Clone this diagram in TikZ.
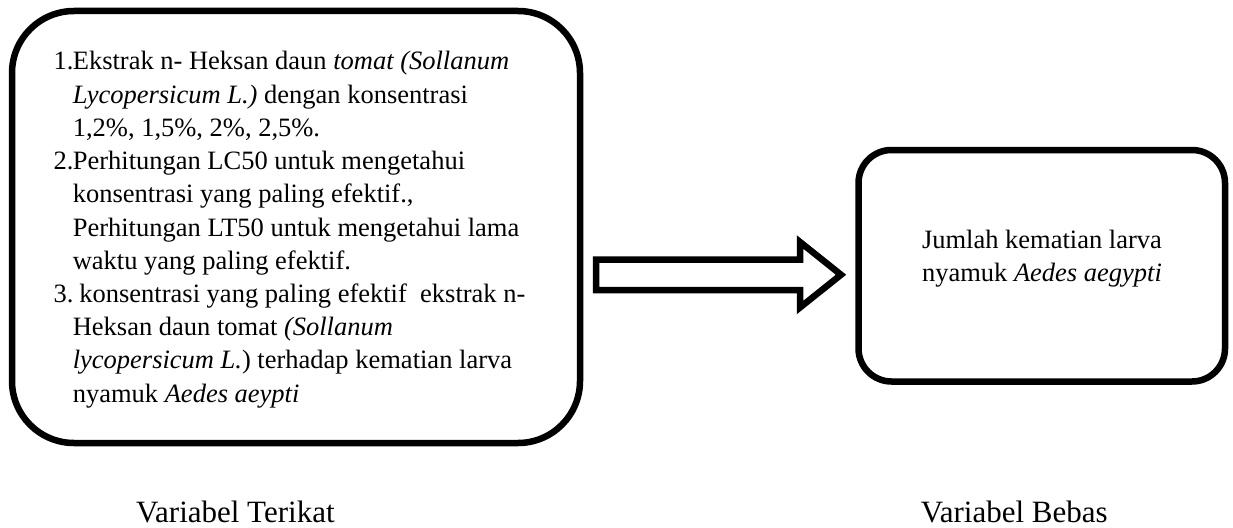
\documentclass[tikz,border=0pt]{standalone}
\usepackage{fontspec}
\setmainfont{Liberation Serif}
\begin{document}
\begin{tikzpicture}[x=1pt,y=-1pt,
  varbox/.style={draw=black,line width=6.5pt,inner sep=0pt,outer sep=0pt},
  bodytext/.style={anchor=base west,inner sep=0pt,outer sep=0pt,
    font=\fontsize{26.5}{33.2}\selectfont},
  caption/.style={anchor=base west,inner sep=0pt,
    font=\fontsize{31}{36}\selectfont},
  blockarrow/.style={draw=black,fill=white,line width=6.5pt,line join=miter}]
\useasboundingbox (0,0) rectangle (1233,527);

% boxes
\node (terikat) [varbox,rounded corners=62pt,minimum width=568pt,minimum height=432pt]
  at (296,227) {};
\node (bebas) [varbox,rounded corners=33pt,minimum width=366.5pt,minimum height=231.5pt]
  at (1041.75,265.75) {};

% list of the dependent variables
\newcommand{\itemlabel}[1]{\leavevmode\llap{\makebox[19.2pt][l]{#1}}}
\node (terikattext) [bodytext] at (72.8,70) {\parbox[t]{480pt}{%
  \itemlabel{1.}Ekstrak n- Heksan daun \textit{tomat (Sollanum}\\
  \textit{Lycopersicum L.)} dengan konsentrasi\\
  1,2\%, 1,5\%, 2\%, 2,5\%.\\
  \itemlabel{2.}Perhitungan LC50 untuk mengetahui\\
  konsentrasi yang paling efektif.,\\
  Perhitungan LT50 untuk mengetahui lama\\
  waktu yang paling efektif.\\
  \itemlabel{3.}\ konsentrasi yang paling efektif\ \ ekstrak n-\\
  Heksan daun tomat \textit{(Sollanum}\\
  \textit{lycopersicum L.}) terhadap kematian larva\\
  nyamuk \textit{Aedes aeypti}}};

\node (bebastext) [bodytext] at (922,248) {\parbox[t]{290pt}{%
  Jumlah kematian larva\\
  nyamuk \textit{Aedes aegypti}}};

% block arrow between the boxes
\coordinate (tip) at (841,274.75);
\draw[blockarrow] (596,259.5) -- (800,259.5) -- (800,242)
  -- (tip) -- (800,307.5) -- (800,290) -- (596,290) -- cycle;

% captions
\node (capterikat) [caption] at (136,522) {Variabel Terikat};
\node (capbebas) [caption] at (920.7,522) {Variabel Bebas};
\end{tikzpicture}
\end{document}
